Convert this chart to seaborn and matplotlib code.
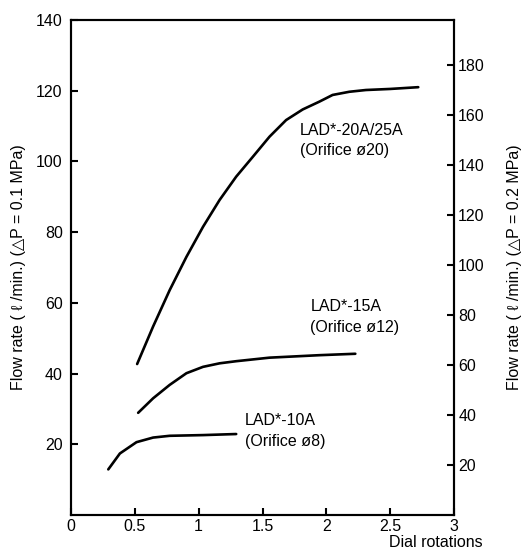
import numpy as np
import pandas as pd
import matplotlib
matplotlib.use("Agg")
import matplotlib.pyplot as plt
import seaborn as sns

# Data (x = dial rotations, y = flow at dP=0.1 MPa)
x_20 = [0.518, 0.643, 0.773, 0.904, 1.034, 1.164, 1.294, 1.424, 1.555, 1.685, 1.815, 1.945, 2.049, 2.18, 2.31, 2.50, 2.72]
y_20 = [42.7, 53.3, 63.6, 73.0, 81.5, 89.1, 95.7, 101.3, 107.0, 111.7, 114.7, 116.9, 118.8, 119.7, 120.2, 120.5, 121.0]
x_15 = [0.526, 0.643, 0.773, 0.904, 1.034, 1.164, 1.294, 1.555, 1.945, 2.227]
y_15 = [28.9, 33.0, 36.8, 40.1, 41.9, 42.9, 43.5, 44.5, 45.2, 45.6]
x_10 = [0.292, 0.383, 0.513, 0.643, 0.773, 1.034, 1.294]
y_10 = [12.9, 17.4, 20.6, 21.9, 22.4, 22.6, 22.9]

labels = ["LAD*-20A/25A\n(Orifice ø20)", "LAD*-15A\n(Orifice ø12)", "LAD*-10A\n(Orifice ø8)"]
label_pos = [(1.79, 106.0), (1.875, 56.0), (1.36, 23.8)]

x_ticks = [0, 0.5, 1, 1.5, 2, 2.5, 3]
x_ticklabels = ["0", "0.5", "1", "1.5", "2", "2.5", "3"]
left_ticks = [20, 40, 60, 80, 100, 120, 140]
right_ticks = [20, 40, 60, 80, 100, 120, 140, 160, 180]

sns.set_style("ticks")
plt.rcParams['font.family'] = ['Liberation Sans', 'DejaVu Sans']
plt.rcParams['font.size'] = 11.5
plt.rcParams['text.color'] = 'black'
plt.rcParams['axes.labelcolor'] = 'black'
plt.rcParams['axes.linewidth'] = 1.5

FS = 11.5

fig = plt.figure(figsize=(5.25, 5.5), dpi=100)
ax = fig.add_axes([71/525, 1 - 515/550, (454-71)/525, (515-20)/550])

df = pd.concat([
    pd.DataFrame({"x": x_20, "y": y_20, "s": "20"}),
    pd.DataFrame({"x": x_15, "y": y_15, "s": "15"}),
    pd.DataFrame({"x": x_10, "y": y_10, "s": "10"}),
])
for s in ["20", "15", "10"]:
    sns.lineplot(data=df[df.s == s], x="x", y="y", ax=ax, color="black",
                 linewidth=1.9, sort=True, estimator=None)

for (tx, ty), t in zip(label_pos, labels):
    ax.text(tx, ty, t, ha="left", va="center", fontsize=FS, linespacing=1.45,
            color="black")

ax.set_xlim(0, 3)
ax.set_ylim(0, 140)
ax.set_xticks(x_ticks)
ax.set_xticklabels(x_ticklabels)
ax.set_yticks(left_ticks)
ax.tick_params(direction="in", length=5, width=1.5, labelsize=FS, colors="black")
ax.tick_params(axis="y", pad=6)
ax.tick_params(axis="x", pad=3)
ax.set_ylabel("Flow rate ( ℓ /min.) (△P = 0.1 MPa)", fontsize=FS, labelpad=7)
ax.set_xlabel("Dial rotations", fontsize=FS, ha="right")
ax.xaxis.set_label_coords(1.076, -0.041)
for sp in ax.spines.values():
    sp.set_visible(True)
    sp.set_linewidth(1.5)
    sp.set_color("black")

ax2 = ax.twinx()
ax2.set_ylim(0, 140 * np.sqrt(2))
ax2.set_yticks(right_ticks)
ax2.tick_params(direction="in", length=5, width=1.5, labelsize=FS, pad=3, colors="black")
ax2.set_ylabel("Flow rate ( ℓ /min.) (△P = 0.2 MPa)", fontsize=FS, labelpad=16)
for sp in ax2.spines.values():
    sp.set_linewidth(1.5)
    sp.set_color("black")

fig.savefig("out.png", dpi=100)
